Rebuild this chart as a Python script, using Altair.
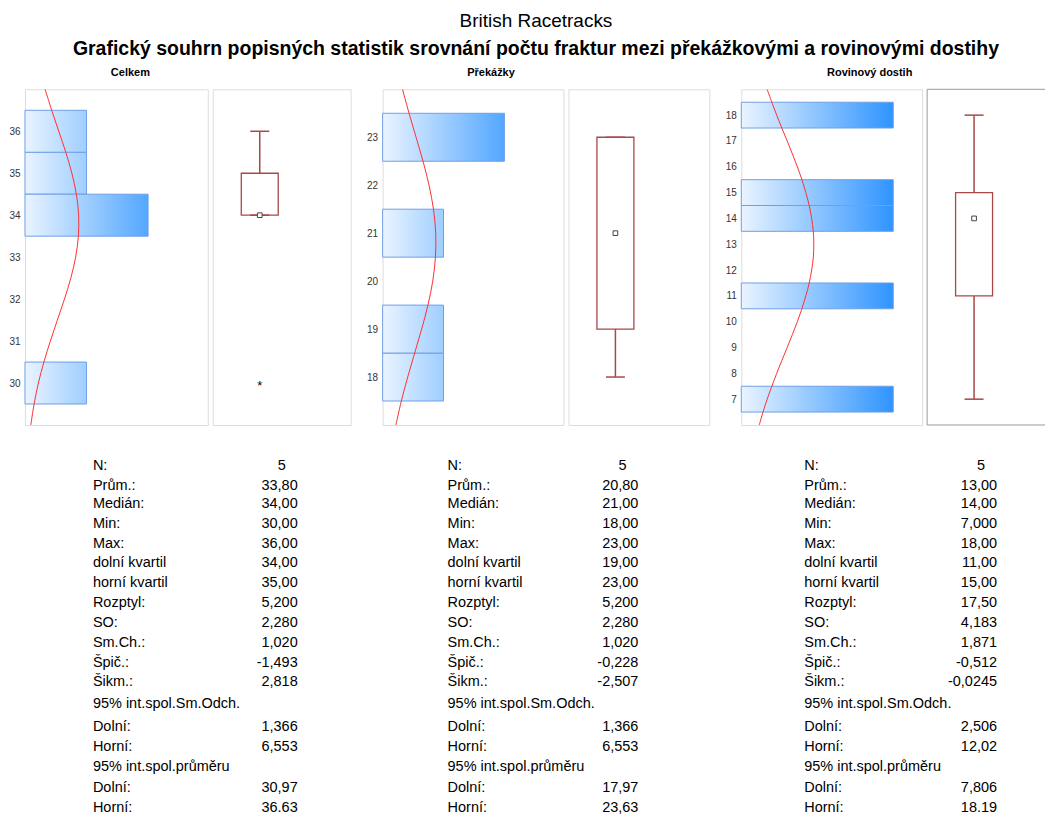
import altair as alt
import pandas as pd

FONT = "Liberation Sans"

# ---------------- data ----------------
groups = ["Celkem", "Překážky", "Rovinový dostih"]

hist_centers = [[30, 34, 35, 36], [18, 19, 21, 23], [7, 11, 14, 15, 18]]
hist_counts = [[1, 2, 1, 1], [1, 1, 1, 2], [1, 1, 1, 1, 1]]

y_domains = [[29, 37], [17, 24], [6, 19]]
y_ticks = [[30, 31, 32, 33, 34, 35, 36],
           [18, 19, 20, 21, 22, 23],
           [7, 8, 9, 10, 11, 12, 13, 14, 15, 16, 17, 18]]
x_max = [2.97, 2.97, 1.19]

# fitted normal curve (value, frequency)
curve_y_1 = [29, 29.5, 30, 30.5, 31, 31.5, 32, 32.5, 33, 33.5, 34, 34.5, 35, 35.5, 36, 36.5, 37]
curve_x_1 = [0.095, 0.148, 0.218, 0.307, 0.412, 0.526, 0.641, 0.744, 0.823, 0.867, 0.872,
             0.835, 0.762, 0.663, 0.549, 0.434, 0.327]
curve_y_2 = [17, 17.5, 18, 18.5, 19, 19.5, 20, 20.5, 21, 21.5, 22, 22.5, 23, 23.5, 24]
curve_x_2 = [0.218, 0.307, 0.412, 0.526, 0.641, 0.744, 0.823, 0.867, 0.872, 0.835, 0.762,
             0.663, 0.549, 0.434, 0.327]
curve_y_3 = [6, 6.5, 7, 7.5, 8, 8.5, 9, 9.5, 10, 10.5, 11, 11.5, 12, 12.5, 13, 13.5, 14,
             14.5, 15, 15.5, 16, 16.5, 17, 17.5, 18, 18.5, 19]
curve_x_3 = [0.118, 0.143, 0.170, 0.201, 0.233, 0.267, 0.302, 0.336, 0.369, 0.399, 0.425,
             0.447, 0.463, 0.474, 0.477, 0.474, 0.463, 0.447, 0.425, 0.399, 0.369, 0.336,
             0.302, 0.267, 0.233, 0.201, 0.170]
curves = [(curve_y_1, curve_x_1), (curve_y_2, curve_x_2), (curve_y_3, curve_x_3)]

box_q1 = [34, 19, 11]
box_q3 = [35, 23, 15]
box_median = [34, 21, 14]
box_low = [34, 18, 7]
box_high = [36, 23, 18]
box_outliers = [[30], [], []]

stat_labels = ["N:", "Prům.:", "Medián:", "Min:", "Max:", "dolní kvartil", "horní kvartil",
               "Rozptyl:", "SO:", "Sm.Ch.:", "Špič.:", "Šikm.:", "95% int.spol.Sm.Odch.",
               "Dolní:", "Horní:", "95% int.spol.průměru", "Dolní:", "Horní:"]
stat_values = [
    ["5", "33,80", "34,00", "30,00", "36,00", "34,00", "35,00", "5,200", "2,280", "1,020",
     "-1,493", "2,818", "", "1,366", "6,553", "", "30,97", "36.63"],
    ["5", "20,80", "21,00", "18,00", "23,00", "19,00", "23,00", "5,200", "2,280", "1,020",
     "-0,228", "-2,507", "", "1,366", "6,553", "", "17,97", "23,63"],
    ["5", "13,00", "14,00", "7,000", "18,00", "11,00", "15,00", "17,50", "4,183", "1,871",
     "-0,512", "-0,0245", "", "2,506", "12,02", "", "7,806", "18.19"],
]
# vertical slot of each table row (row units)
row_slots = [0, 1.005, 1.94, 2.96, 3.97, 4.95, 5.96, 6.94, 7.96, 8.98, 9.99, 11.0,
             12.09, 13.25, 14.27, 15.29, 16.34, 17.36]

# ---------------- layout / style ----------------
HIST_W = [183, 181, 181]
BOX_W = [138, 141, 118]
GAP_W = 22
PANEL_H = 336
TITLE_DX = [14, 18, 38]
BOX_CENTER_PX = 47
FRAME = "#9a9a9a"
BOX_COLOR = "#a84848"
LEFT_RGB = (234, 244, 255)
RIGHT_RGB = (10, 130, 255)


def ramp(f):
    c = [round(a + (b - a) * f) for a, b in zip(LEFT_RGB, RIGHT_RGB)]
    return "#%02x%02x%02x" % tuple(c)


def hist_chart(i):
    df = pd.DataFrame({"center": hist_centers[i], "n": hist_counts[i]})
    ys = alt.Scale(domain=y_domains[i], nice=False, zero=False)
    xs = alt.Scale(domain=[0, x_max[i]], nice=False, zero=False)
    yaxis = alt.Axis(values=y_ticks[i], title=None, ticks=False, domain=False,
                     grid=False, labelFontSize=10, labelColor="#333333",
                     labelFont=FONT, labelPadding=5)
    base = alt.Chart(df).transform_calculate(
        lo="datum.center - 0.5", hi="datum.center + 0.5", zero="0")
    layers = []
    for c in sorted(set(hist_counts[i])):
        grad = alt.Gradient(
            gradient="linear", x1=0, y1=0, x2=1, y2=0,
            stops=[alt.GradientStop(offset=0, color=ramp(0.0)),
                   alt.GradientStop(offset=1, color=ramp(c / x_max[i]))])
        layers.append(
            base.transform_filter(alt.datum.n == c)
            .mark_rect(fill=grad, stroke="#6f9fe6", strokeWidth=1)
            .encode(x=alt.X("zero:Q", scale=xs, axis=None), x2="n:Q",
                    y=alt.Y("lo:Q", scale=ys, axis=yaxis), y2="hi:Q"))
    cy, cx = curves[i]
    cdf = pd.DataFrame({"cy": cy, "cx": cx})
    line = alt.Chart(cdf).mark_line(color="#ff3030", strokeWidth=1, interpolate="cardinal",
                                    clip=True).encode(
        x=alt.X("cx:Q", scale=xs, axis=None),
        y=alt.Y("cy:Q", scale=ys, axis=yaxis),
        order="cy:Q")
    return alt.layer(*layers, line).properties(
        width=HIST_W[i], height=PANEL_H,
        title=alt.TitleParams(groups[i], fontSize=11, fontWeight="bold", font=FONT,
                              color="black", dx=TITLE_DX[i], offset=11))


def box_chart(i):
    W = BOX_W[i]
    xm = W / BOX_CENTER_PX
    xs = alt.Scale(domain=[0, xm], nice=False, zero=False)
    ys = alt.Scale(domain=y_domains[i], nice=False, zero=False)
    df = pd.DataFrame({"q1": [box_q1[i]], "q3": [box_q3[i]], "med": [box_median[i]],
                       "lo": [box_low[i]], "hi": [box_high[i]]})
    base = alt.Chart(df).transform_calculate(
        c="1", bl="1 - 18.5/%f" % BOX_CENTER_PX, br="1 + 18.5/%f" % BOX_CENTER_PX,
        cl="1 - 9.5/%f" % BOX_CENTER_PX, cr="1 + 9.5/%f" % BOX_CENTER_PX)
    X = lambda f: alt.X(f, scale=xs, axis=None)
    Y = lambda f: alt.Y(f, scale=ys, axis=None)
    w_up = base.mark_rule(color=BOX_COLOR, strokeWidth=1.5).encode(x=X("c:Q"), y=Y("q3:Q"), y2="hi:Q")
    w_dn = base.mark_rule(color=BOX_COLOR, strokeWidth=1.5).encode(x=X("c:Q"), y=Y("lo:Q"), y2="q1:Q")
    cap_up = base.mark_rule(color=BOX_COLOR, strokeWidth=1.5).encode(x=X("cl:Q"), x2="cr:Q", y=Y("hi:Q"))
    cap_dn = base.mark_rule(color=BOX_COLOR, strokeWidth=1.5).encode(x=X("cl:Q"), x2="cr:Q", y=Y("lo:Q"))
    box = base.mark_rect(fill="white", stroke=BOX_COLOR, strokeWidth=1.3).encode(
        x=X("bl:Q"), x2="br:Q", y=Y("q1:Q"), y2="q3:Q")
    med = base.mark_point(shape="square", size=22, filled=False, fill="white",
                          stroke="#444444", strokeWidth=1, opacity=1).encode(x=X("c:Q"), y=Y("med:Q"))
    layers = [w_up, w_dn, box, cap_up, cap_dn, med]
    if box_outliers[i]:
        odf = pd.DataFrame({"v": box_outliers[i]})
        layers.append(alt.Chart(odf).transform_calculate(c="1").mark_text(
            text="*", fontSize=13, font=FONT, color="black", dy=3).encode(
            x=X("c:Q"), y=Y("v:Q")))
    props = dict(width=W, height=PANEL_H)
    if i == 2:
        fr = alt.Chart(pd.DataFrame({"k": [0]}))
        layers.append(fr.mark_rule(color=FRAME).encode(x=alt.value(0), x2=alt.value(W), y=alt.value(0)))
        layers.append(fr.mark_rule(color=FRAME).encode(x=alt.value(0), x2=alt.value(W), y=alt.value(PANEL_H)))
        layers.append(fr.mark_rule(color=FRAME).encode(x=alt.value(0), y=alt.value(0), y2=alt.value(PANEL_H)))
        props["view"] = alt.ViewBackground(stroke=None)
    return alt.layer(*layers).properties(**props)


def spacer():
    return alt.Chart(pd.DataFrame({"k": [0]})).mark_point(opacity=0).encode(
        x=alt.value(0), y=alt.value(0)).properties(
        width=GAP_W, height=PANEL_H, view=alt.ViewBackground(stroke=None))


panels = [hist_chart(0), box_chart(0), spacer(), hist_chart(1), box_chart(1), spacer(),
          hist_chart(2), box_chart(2)]
row1 = alt.hconcat(*panels, spacing=5, bounds="flush")

# ---------------- statistics table ----------------
rows = []
for ci in range(3):
    for ri, lab in enumerate(stat_labels):
        rows.append({"col": ci, "row": ri, "pos": row_slots[ri], "label": lab,
                     "value": stat_values[ci][ri]})
tdf = pd.DataFrame(rows)
TXT_W = 1015
TXT_H = 342
LABEL_X = [68, 423, 780]
VALUE_X = [273, 614, 973]
TXT_SIZE = 14.5
ys_t = alt.Scale(domain=[0, row_slots[-1]], reverse=True, nice=False, zero=False)
tbase = alt.Chart(tdf)
tlayers = []
for ci in range(3):
    sub = tbase.transform_filter(alt.datum.col == ci)
    tlayers.append(sub.mark_text(align="left", baseline="middle", font=FONT, fontSize=TXT_SIZE,
                                 color="black").encode(
        x=alt.value(LABEL_X[ci]), y=alt.Y("pos:Q", scale=ys_t, axis=None), text="label:N"))
    tlayers.append(sub.transform_filter(alt.datum.row > 0).mark_text(
        align="right", baseline="middle", font=FONT, fontSize=TXT_SIZE, color="black").encode(
        x=alt.value(VALUE_X[ci]), y=alt.Y("pos:Q", scale=ys_t, axis=None), text="value:N"))
    tlayers.append(sub.transform_filter(alt.datum.row == 0).mark_text(
        align="center", baseline="middle", font=FONT, fontSize=TXT_SIZE, color="black").encode(
        x=alt.value(VALUE_X[ci] - 16), y=alt.Y("pos:Q", scale=ys_t, axis=None), text="value:N"))
row2 = alt.layer(*tlayers).properties(width=TXT_W, height=TXT_H,
                                      view=alt.ViewBackground(stroke=None))

chart = alt.vconcat(row1, row2, spacing=32).properties(
    padding={"left": 0, "top": 4, "right": 0, "bottom": 0},
    title=alt.TitleParams(
        "British Racetracks",
        subtitle="Grafický souhrn popisných statistik srovnání počtu fraktur mezi překážkovými a rovinovými dostihy",
        anchor="middle", dx=9, font=FONT, fontSize=19, fontWeight="normal", color="black",
        subtitleFont=FONT, subtitleFontSize=19.5, subtitleFontWeight="bold",
        subtitleColor="black", subtitlePadding=9, offset=8),
).configure_view(stroke=FRAME).configure(background="white")

chart.save("out.html", embed_options={"renderer": "svg", "actions": False})
